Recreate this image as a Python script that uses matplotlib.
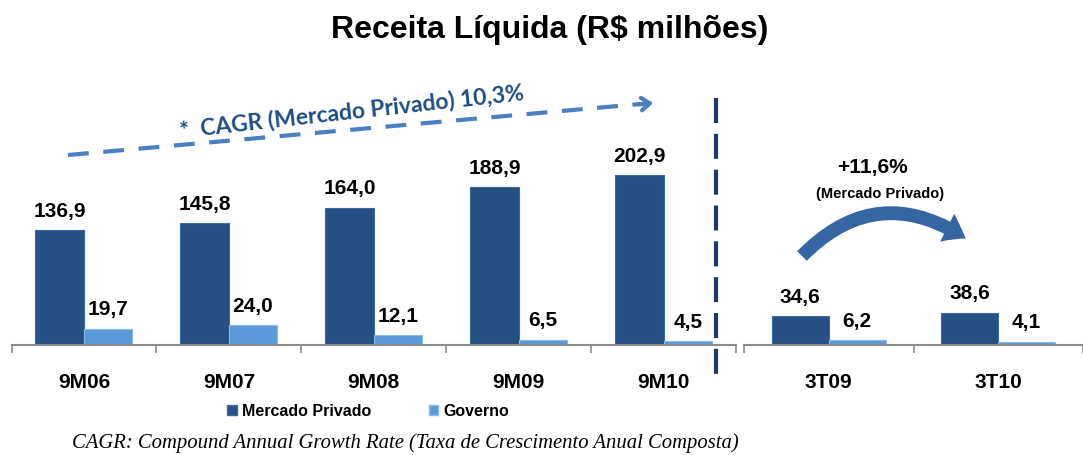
import matplotlib
matplotlib.use('Agg')
import matplotlib.pyplot as plt
from matplotlib.patches import Patch, FancyArrowPatch
import numpy as np

plt.rcParams['font.family'] = ['Liberation Sans', 'DejaVu Sans']

# dados
cats_9m = ['9M06', '9M07', '9M08', '9M09', '9M10']
privado_9m = [136.9, 145.8, 164.0, 188.9, 202.9]
governo_9m = [19.7, 24.0, 12.1, 6.5, 4.5]

cats_3t = ['3T09', '3T10']
privado_3t = [34.6, 38.6]
governo_3t = [6.2, 4.1]

COR_PRIV = '#264f84'
COR_GOV = '#5b9ad8'
COR_EIXO = '#8c8c8c'

W, H = 1083, 455
fig = plt.figure(figsize=(W / 100, H / 100), dpi=100)

def px_axes(x0, x1, y_top, y_base):
    return fig.add_axes([x0 / W, 1 - y_base / H, (x1 - x0) / W, (y_base - y_top) / H])

def barras(ax, cats, priv, gov, xmax):
    x = np.arange(len(cats))
    bw = 0.335
    ax.bar(x - bw / 2, priv, bw, color=COR_PRIV, edgecolor='#3a6aa6', linewidth=0.8, zorder=2)
    ax.bar(x + bw / 2, gov, bw, color=COR_GOV, edgecolor='#8bbbe8', linewidth=0.8, zorder=2)
    for xi, v in zip(x - bw / 2, priv):
        ax.annotate(f'{v:.1f}'.replace('.', ','), (xi, v), xytext=(0, 13.5),
                    textcoords='offset points', ha='center', va='center',
                    fontsize=15, fontweight='bold')
    for xi, v in zip(x + bw / 2, gov):
        ax.annotate(f'{v:.1f}'.replace('.', ','), (xi, v), xytext=(0, 13.5),
                    textcoords='offset points', ha='center', va='center',
                    fontsize=15, fontweight='bold')
    ax.set_xlim(-0.5, xmax)
    ax.set_ylim(0, 316.6)
    for s in ['top', 'right', 'left']:
        ax.spines[s].set_visible(False)
    ax.spines['bottom'].set_color(COR_EIXO)
    ax.spines['bottom'].set_linewidth(1.5)
    ax.set_yticks([])
    ax.set_xticks(x)
    ax.set_xticklabels(cats, fontsize=15, fontweight='bold')
    ax.tick_params(axis='x', which='major', length=0, pad=20)
    ax.set_xticks(np.arange(len(cats) + 1) - 0.5, minor=True)
    ax.tick_params(axis='x', which='minor', length=6, width=1.2, color=COR_EIXO, direction='out')
    ax.patch.set_visible(False)

ax1 = px_axes(11.5, 736, 80, 345)
barras(ax1, cats_9m, privado_9m, governo_9m, 4.5)

ax2 = px_axes(744, 1083, 80, 345)
barras(ax2, cats_3t, privado_3t, governo_3t, 1.437)

# camada de anotações em pixels
ov = fig.add_axes([0, 0, 1, 1])
ov.set_xlim(0, W)
ov.set_ylim(H, 0)
ov.axis('off')
ov.patch.set_visible(False)

fig.text(550 / W, 1 - 30 / H, 'Receita Líquida (R$ milhões)', ha='center', va='center',
         fontsize=23, fontweight='bold')

# seta CAGR tracejada
ov.plot([68, 640], [155, 104], color='#4a7fc1', lw=3, dashes=(5, 3.5), solid_capstyle='butt')
ov.annotate('', xy=(656, 102.8), xytext=(636, 104.6),
            arrowprops=dict(arrowstyle='->,head_length=0.6,head_width=0.45', lw=3,
                            color='#4a7fc1'))
ov.text(352, 112, '*  CAGR (Mercado Privado) 10,3%', ha='center', va='center',
        rotation=6.3, rotation_mode='anchor', fontsize=16.5, fontweight='bold',
        color='#1f4e85', family=['Lato', 'DejaVu Sans'])

# linha vertical separadora
ov.plot([716, 716], [98, 382], color='#1f3864', lw=3, dashes=(6, 2.6))

# seta curva
arc = FancyArrowPatch((800, 258), (968, 240), connectionstyle='arc3,rad=-0.42',
                      arrowstyle='simple,head_length=1.1,head_width=1.6,tail_width=0.7',
                      mutation_scale=14, color='#3565a3', lw=0)
ov.add_patch(arc)
ov.text(872, 168, '+11,6%', ha='center', va='center', fontsize=15, fontweight='bold')
ov.text(880, 194, '(Mercado Privado)', ha='center', va='center', fontsize=10.5,
        fontweight='bold')

# legenda
handles = [Patch(facecolor=COR_PRIV, edgecolor='#3a6aa6'),
           Patch(facecolor=COR_GOV, edgecolor='#8bbbe8')]
fig.legend(handles, ['Mercado Privado', 'Governo'], loc='center',
           bbox_to_anchor=(368 / W, 1 - 411 / H), ncol=2, frameon=False,
           prop={'size': 11.5, 'weight': 'bold'}, handlelength=0.6, handleheight=0.6,
           handletextpad=0.3, columnspacing=3.6)

fig.text(72 / W, 1 - 443 / H,
         'CAGR: Compound Annual Growth Rate (Taxa de Crescimento Anual Composta)',
         ha='left', va='center', fontsize=14.9, style='italic',
         family=['Liberation Serif', 'DejaVu Serif'])

fig.savefig('out.png', dpi=100)
